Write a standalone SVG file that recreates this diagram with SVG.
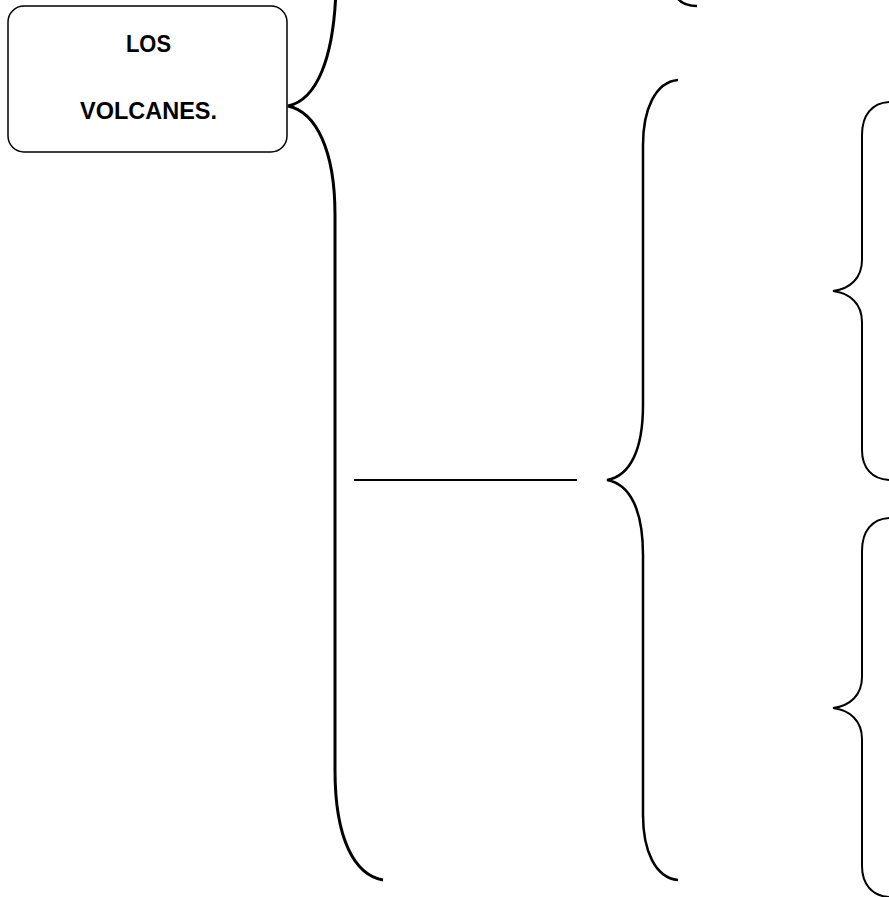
<svg xmlns="http://www.w3.org/2000/svg" width="889" height="897" viewBox="0 0 889 897">
<style>
.box{fill:#fff;stroke:#000;stroke-width:1.5}
.t{font-family:"Liberation Sans",Arial,sans-serif;font-weight:bold;font-size:23px;fill:#000;text-anchor:middle}
.b{fill:none;stroke:#000;stroke-linecap:butt}
</style>
<rect width="889" height="897" fill="#fff"/>
<g id="node-volcanes">
<rect class="box" x="8" y="6" width="279" height="146" rx="16" ry="16"/>
<text class="t" x="148.5" y="52" textLength="45" lengthAdjust="spacingAndGlyphs">LOS</text>
<text class="t" x="148.5" y="119" textLength="137" lengthAdjust="spacingAndGlyphs">VOLCANES.</text>
</g>
<g id="connectors">
<path class="b" stroke-width="3" d="M336,-12 C334,60 316,100 288,106 C316,112 335,150 335,215 L335,770 C335,840 355,875 383,880"/>
<path class="b" stroke-width="2.5" d="M676,-4 C680,3 688,6 697,6"/>
<line x1="354" y1="480" x2="577" y2="480" stroke="#000" stroke-width="2"/>
<path class="b" stroke-width="2.5" d="M678,80 C655,82 643,110 643,145 L643,405 C643,450 630,476 607,480 C630,484 643,510 643,555 L643,815 C643,850 655,878 678,880"/>
<path class="b" stroke-width="2" d="M889,102 C872,103 862,115 862,135 L862,260 C862,278 850,289 833,291 C850,293 862,304 862,322 L862,450 C862,468 872,479 889,480"/>
<path class="b" stroke-width="2" d="M889,518 C872,519 862,531 862,551 L862,677 C862,695 850,706 833,708 C850,710 862,721 862,739 L862,866 C862,884 872,896 889,897"/>
</g>
</svg>
